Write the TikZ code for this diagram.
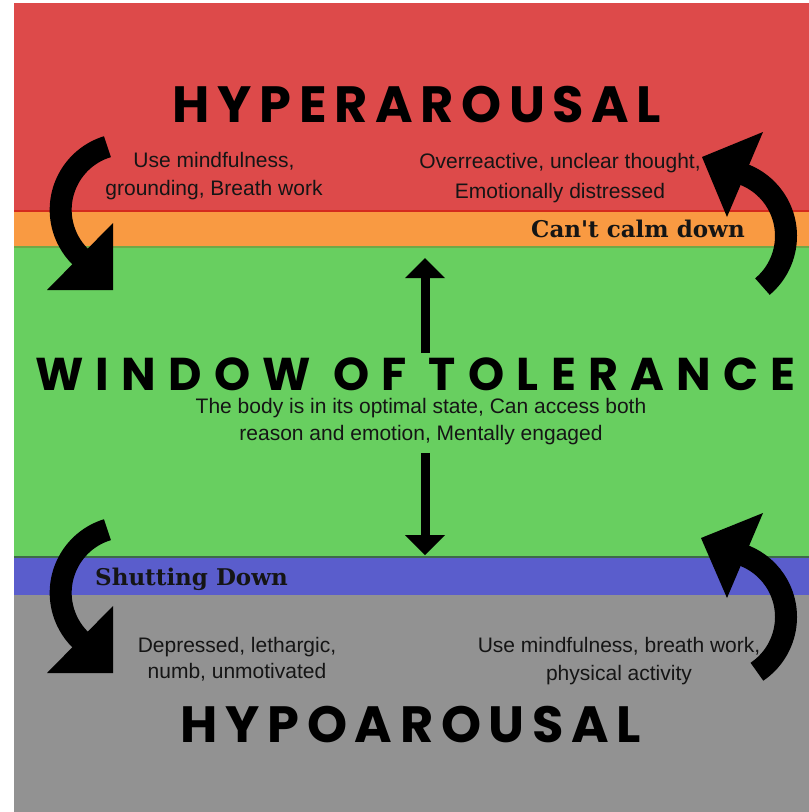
\documentclass[tikz,border=0pt]{standalone}
\usepackage{fontspec}
\setmainfont{Liberation Sans}
\newfontfamily\headfont{Poppins}
\newfontfamily\slabfont{DejaVu Serif}
\definecolor{hyred}{HTML}{DD4A4A}
\definecolor{redline}{HTML}{D42A1E}
\definecolor{hyorange}{HTML}{F99A42}
\definecolor{wgreen}{HTML}{68CF60}
\definecolor{greenline}{HTML}{6FA848}
\definecolor{hoblue}{HTML}{5A5DCC}
\definecolor{blueline}{HTML}{3E6A4A}
\definecolor{hogray}{HTML}{929292}
\definecolor{textc}{HTML}{151515}
\tikzset{
  heading/.style={inner sep=0pt, anchor=base, text depth=0pt, text=black, font=\headfont\bfseries\fontsize{51}{55}\selectfont\addfontfeature{LetterSpace=15}},
  bigheading/.style={inner sep=0pt, anchor=base, text depth=0pt, text=black, font=\headfont\bfseries\fontsize{46}{50}\selectfont\addfontfeature{LetterSpace=26.7}},
  bodytext/.style={inner sep=0pt, anchor=base, align=center, text=textc},
  slab/.style={inner sep=0pt, anchor=base west, text=textc, font=\slabfont\bfseries\fontsize{23}{26}\selectfont},
  shaft/.style={line width=22pt, black, line cap=butt},
  vshaft/.style={line width=9pt, black, line cap=butt},
  head/.style={fill=black, draw=none}
}
\begin{document}
\begin{tikzpicture}[x=1pt,y=-1pt]
\useasboundingbox (0,0) rectangle (809,812);
\fill[white] (0,0) rectangle (809,812);
% bands
\fill[hyred] (14,3) rectangle (809,211);
\fill[hyorange] (14,211) rectangle (809,247);
\fill[wgreen] (14,247) rectangle (809,557);
\fill[hoblue] (14,557) rectangle (809,595);
\fill[hogray] (14,595) rectangle (809,812);
\draw[redline, line width=2.5pt] (14,211) -- (809,211);
\draw[greenline, line width=1.5pt] (14,247) -- (809,247);
\draw[blueline, line width=1.2pt] (14,557) -- (809,557);

% headings
\node[heading] (hyper) at (417,122) {HYPERAROUSAL};
\node[bigheading] (window) at (415.5,390) {WINDOW OF TOLERANCE};
\node[heading] (hypo) at (411,742) {HYPOAROUSAL};

% body texts (anchor base = baseline of last line)
\node[bodytext, font=\fontsize{21}{28}\selectfont] (t1) at (214,195) {Use mindfulness,\\grounding, Breath work};
\node[bodytext, font=\fontsize{21}{30}\selectfont] (t2) at (560,198) {Overreactive, unclear thought,\\Emotionally distressed};
\node[bodytext, font=\fontsize{21}{27}\selectfont] (t3) at (421,440) {The body is in its optimal state, Can access both\\reason and emotion, Mentally engaged};
\node[bodytext, font=\fontsize{21}{26}\selectfont] (t4) at (237,678) {Depressed, lethargic,\\numb, unmotivated};
\node[bodytext, font=\fontsize{21}{28}\selectfont] (t5) at (619,680) {Use mindfulness, breath work,\\physical activity};

\node[slab] (calm) at (531,237) {Can't calm down};
\node[slab] (shut) at (95,585) {Shutting Down};

% curved arrow: top left
\coordinate (tlc) at (126.7,209.8);
\draw[shaft] (tlc) ++(253:66) arc[start angle=253, end angle=131, radius=66];
\coordinate (tlA) at (113,223); \coordinate (tlB) at (47,290); \coordinate (tlT) at (113,290);
\fill[head] (tlA) -- (tlB) -- (tlT) -- cycle;

% curved arrow: top right
\coordinate (trc) at (720,236);
\draw[shaft] (trc) ++(50:66) arc[start angle=50, end angle=-72, radius=66];
\coordinate (trA) at (763,132); \coordinate (trT) at (702,157); \coordinate (trB) at (727,217);
\fill[head] (trA) -- (trT) -- (trB) -- cycle;

% curved arrow: bottom left
\coordinate (blc) at (126.7,592.8);
\draw[shaft] (blc) ++(253:66) arc[start angle=253, end angle=131, radius=66];
\coordinate (blA) at (113,606); \coordinate (blB) at (47,673); \coordinate (blT) at (113,673);
\fill[head] (blA) -- (blB) -- (blT) -- cycle;

% curved arrow: bottom right
\coordinate (brc) at (720,617);
\draw[shaft] (brc) ++(56:66) arc[start angle=56, end angle=-72, radius=66];
\coordinate (brA) at (763,513); \coordinate (brT) at (701,538); \coordinate (brB) at (727,598);
\fill[head] (brA) -- (brT) -- (brB) -- cycle;

% vertical arrows
\coordinate (ub) at (425.5,353); \coordinate (ut) at (425.5,276);
\draw[vshaft] (ub) -- (ut);
\coordinate (utip) at (425,258);
\fill[head] (405,278) -- (utip) -- (445,278) -- cycle;
\coordinate (dt) at (425.5,453); \coordinate (db) at (425.5,537);
\draw[vshaft] (dt) -- (db);
\coordinate (dtip) at (425,555);
\fill[head] (405,535) -- (dtip) -- (445,535) -- cycle;
\end{tikzpicture}
\end{document}
